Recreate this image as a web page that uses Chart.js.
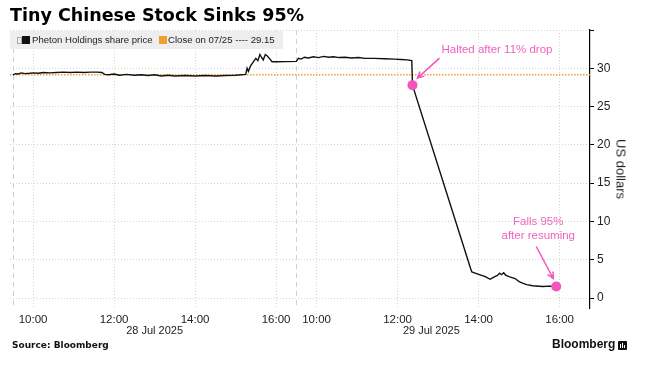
<!DOCTYPE html>
<html>
<head>
<meta charset="utf-8">
<script src="https://cdn.jsdelivr.net/npm/chart.js@4.4.1/dist/chart.umd.min.js"></script>
<style>
  html, body { margin: 0; padding: 0; background: #fff; }
  #wrap { position: relative; width: 646px; height: 366px; overflow: hidden; font-family: 'Liberation Sans', Arial, sans-serif; }
  #chart { position: absolute; left: 0; top: 0; }
  .title { position: absolute; left: 10px; top: 5px; font: bold 17.5px 'DejaVu Sans', sans-serif; color: #000; white-space: nowrap; }
  .legend { position: absolute; left: 10px; top: 31px; width: 273px; height: 18px; background: #eeeeee; font-size: 9.6px; color: #222; line-height: 18px; white-space: nowrap; }
  .legend span { position: absolute; }
  .sw { top: 5px; width: 8px; height: 8px; }
  .ytitle { position: absolute; left: 621px; top: 169px; transform: translate(-50%, -50%) rotate(90deg); font-size: 13px; color: #222; white-space: nowrap; }
  .source { position: absolute; left: 12px; top: 340px; font: bold 9px 'DejaVu Sans', sans-serif; color: #111; }
  .brand { position: absolute; left: 552px; top: 337px; font: bold 12px 'Liberation Sans', Arial, sans-serif; color: #111; }
  .logo { position: absolute; left: 618px; top: 341px; width: 9px; height: 9px; background: #111; border-radius: 1px; }
  .logo i { position: absolute; bottom: 2px; width: 1px; background: #fff; }
</style>
</head>
<body>
<div id="wrap">
  <canvas id="chart" width="646" height="366"></canvas>
  <div class="title">Tiny Chinese Stock Sinks 95%</div>
  <div class="legend">
    <span style="left:7px; top:6px; width:3px; height:5px; border:1px solid #aaa;"></span>
    <span class="sw" style="left:12px; background:#111;"></span>
    <span style="left:22px;">Pheton Holdings share price</span>
    <span class="sw" style="left:149px; background:#f0a030;"></span>
    <span style="left:158px;">Close on 07/25 ---- 29.15</span>
  </div>
  <div class="ytitle">US dollars</div>
  <div class="source">Source: Bloomberg</div>
  <div class="brand">Bloomberg</div>
  <div class="logo"><i style="left:2px;height:4px"></i><i style="left:4px;height:5px"></i><i style="left:6px;height:3px"></i></div>
</div>

<script>
'use strict';

// ── Data ─────────────────────────────────────────────────────────────────────
var day1Times = ['09:30','09:34','09:38','09:43','09:48','09:55','10:00','10:08','10:15','10:25','10:35','10:45','10:55','11:05','11:15','11:25','11:35','11:42','11:46','11:52','12:00','12:08','12:18','12:30','12:40','12:50','13:00','13:10','13:20','13:30','13:45','14:00','14:15','14:30','14:45','15:00','15:08','15:15','15:17','15:19','15:22','15:26','15:30','15:33','15:36','15:38','15:41','15:44','15:47','15:50','15:54','15:59'];
var day1Prices = [29.15,29.3,29.25,29.4,29.3,29.35,29.4,29.35,29.45,29.4,29.45,29.5,29.45,29.5,29.45,29.5,29.5,29.45,29.2,29.15,29.25,29.1,29.2,29.1,29.15,29.05,29.15,29.0,29.1,29.0,29.05,29.0,29.05,29.0,29.05,29.1,29.15,29.2,30.0,29.6,30.3,30.8,31.3,31.0,31.8,31.5,31.1,31.8,31.6,31.3,30.85,30.85];

var day2Times = ['09:30','09:33','09:37','09:42','09:48','09:55','10:03','10:10','10:18','10:25','10:33','10:42','10:52','11:02','11:12','11:25','11:40','11:55','12:05','12:14','12:21','12:22','13:48','13:50','14:00','14:10','14:17','14:20','14:24','14:28','14:31','14:34','14:37','14:40','14:45','14:54','15:00','15:05','15:11','15:20','15:35','15:45','15:55'];
var day2Prices = [30.9,31.3,31.2,31.45,31.35,31.5,31.4,31.55,31.45,31.5,31.4,31.45,31.35,31.4,31.3,31.3,31.25,31.2,31.15,31.1,31.0,27.8,3.9,3.4,3.1,2.8,2.45,2.6,2.8,2.95,3.25,3.05,3.3,3.0,2.8,2.55,2.15,1.95,1.75,1.6,1.5,1.55,1.51];

var prevClose = 29.15;

var markerDays   = [1, 1];
var markerTimes  = ['12:22', '15:55'];
var markerPrices = [27.8, 1.51];

var xTickTimes    = ['10:00', '12:00', '14:00', '16:00'];
var dayLabels     = ['28 Jul 2025', '29 Jul 2025'];
var dayLabelTimes = ['13:00', '12:50'];
var yTickValues   = [0, 5, 10, 15, 20, 25, 30, 35];

// ── Warna ────────────────────────────────────────────────────────────────────
var PINK = '#f553bd';
var PINK_TEXT = '#f062c0';
var ORANGE = '#f0a030';
var GRID = '#d6d6d6';

// ── Helper: jam perdagangan -> posisi sumbu x (jam sejak 09:30 hari pertama) ─
var DAY_OFFSET = 7;
var X_MIN = -0.07;
var X_MAX = 14.25;

function tpos(day, hhmm) {
    var p = hhmm.split(':');
    return day * DAY_OFFSET + (parseInt(p[0], 10) + parseInt(p[1], 10) / 60 - 9.5);
}

function buildSeries(day, times, prices) {
    return times.map(function (t, i) { return { x: tpos(day, t), y: prices[i] }; });
}

var priceData = buildSeries(0, day1Times, day1Prices).concat(buildSeries(1, day2Times, day2Prices));
var closeData = [{ x: X_MIN, y: prevClose }, { x: X_MAX, y: prevClose }];
var markerData = markerTimes.map(function (t, i) { return { x: tpos(markerDays[i], t), y: markerPrices[i] }; });

var xTickPos = [];
var xTickText = {};
[0, 1].forEach(function (d) {
    xTickTimes.forEach(function (t) {
        var v = tpos(d, t);
        xTickPos.push(v);
        xTickText[v.toFixed(3)] = t;
    });
});

// ── Helper: panah terbuka ────────────────────────────────────────────────────
function drawArrow(ctx, x1, y1, x2, y2) {
    var ang = Math.atan2(y2 - y1, x2 - x1);
    var len = 7;
    ctx.beginPath();
    ctx.moveTo(x1, y1);
    ctx.lineTo(x2, y2);
    ctx.moveTo(x2 - len * Math.cos(ang - 0.45), y2 - len * Math.sin(ang - 0.45));
    ctx.lineTo(x2, y2);
    ctx.lineTo(x2 - len * Math.cos(ang + 0.45), y2 - len * Math.sin(ang + 0.45));
    ctx.stroke();
}

// ── Plugin: garis pemisah hari, label tanggal, anotasi ───────────────────────
var extrasPlugin = {
    id: 'extras',
    beforeDatasetsDraw: function (chart) {
        var ctx = chart.ctx;
        var xs = chart.scales.x;
        var area = chart.chartArea;
        ctx.save();
        ctx.strokeStyle = '#cfcfcf';
        ctx.lineWidth = 1;
        ctx.setLineDash([5, 4]);
        [0, 1].forEach(function (d) {
            var px = Math.round(xs.getPixelForValue(tpos(d, '09:30'))) + 0.5;
            ctx.beginPath();
            ctx.moveTo(px, area.top);
            ctx.lineTo(px, area.bottom);
            ctx.stroke();
        });
        ctx.restore();
    },
    afterDraw: function (chart) {
        var ctx = chart.ctx;
        var xs = chart.scales.x;
        ctx.save();
        ctx.font = "11px 'Liberation Sans', Arial, sans-serif";
        ctx.fillStyle = '#222';
        ctx.textAlign = 'center';
        ctx.textBaseline = 'middle';
        dayLabels.forEach(function (lbl, d) {
            ctx.fillText(lbl, xs.getPixelForValue(tpos(d, dayLabelTimes[d])), 331);
        });

        var pts = chart.getDatasetMeta(0).data;
        var halt = pts[0], fall = pts[1];
        ctx.fillStyle = PINK_TEXT;
        ctx.font = "11.5px 'Liberation Sans', Arial, sans-serif";
        ctx.textAlign = 'left';
        ctx.fillText('Halted after 11% drop', halt.x + 29, halt.y - 35);
        ctx.textAlign = 'center';
        ctx.fillText('Falls 95%', fall.x - 18, fall.y - 65);
        ctx.fillText('after resuming', fall.x - 18, fall.y - 51);

        ctx.strokeStyle = PINK;
        ctx.lineWidth = 1.5;
        drawArrow(ctx, halt.x + 27, halt.y - 27, halt.x + 5, halt.y - 7);
        drawArrow(ctx, fall.x - 20, fall.y - 40, fall.x - 3, fall.y - 8);
        ctx.restore();
    }
};

// ── Chart ────────────────────────────────────────────────────────────────────
new Chart(document.getElementById('chart').getContext('2d'), {
    type: 'line',
    data: {
        datasets: [
            {
                label: 'markers',
                data: markerData,
                showLine: false,
                pointRadius: 5,
                pointBackgroundColor: PINK,
                pointBorderWidth: 0
            },
            {
                label: 'Pheton Holdings share price',
                data: priceData,
                borderColor: '#111111',
                borderWidth: 1.4,
                pointRadius: 0,
                tension: 0
            },
            {
                label: 'Close on 07/25',
                data: closeData,
                borderColor: ORANGE,
                borderWidth: 1.5,
                borderDash: [1.5, 1.5],
                pointRadius: 0
            }
        ]
    },
    options: {
        responsive: false,
        animation: false,
        layout: {
            autoPadding: false,
            padding: { left: 10, top: 30, right: 0, bottom: 38 }
        },
        plugins: {
            legend: { display: false },
            tooltip: { enabled: false }
        },
        scales: {
            x: {
                type: 'linear',
                min: X_MIN,
                max: X_MAX,
                afterBuildTicks: function (axis) {
                    axis.ticks = xTickPos.map(function (v) { return { value: v }; });
                },
                afterFit: function (axis) { axis.height = 20; },
                grid: { color: GRID, drawTicks: false },
                border: { display: false, dash: [1, 2] },
                ticks: {
                    padding: 5,
                    maxRotation: 0,
                    autoSkip: false,
                    color: '#222',
                    font: { family: "'Liberation Sans', Arial, sans-serif", size: 11.5 },
                    callback: function (v) { return xTickText[Number(v).toFixed(3)] || ''; }
                }
            },
            y: {
                position: 'right',
                min: -1.3,
                max: 35,
                afterBuildTicks: function (axis) {
                    axis.ticks = yTickValues.map(function (v) { return { value: v }; });
                },
                afterFit: function (axis) { axis.width = 56; },
                grid: { color: GRID, tickColor: '#000', tickLength: 4, tickWidth: 1 },
                border: { display: true, color: '#000', width: 1.2, dash: [1, 2] },
                ticks: {
                    padding: 3,
                    color: '#222',
                    font: { family: "'Liberation Sans', Arial, sans-serif", size: 12 },
                    callback: function (v) { return v === 35 ? '' : v; }
                }
            }
        }
    },
    plugins: [extrasPlugin]
});
</script>
</body>
</html>
